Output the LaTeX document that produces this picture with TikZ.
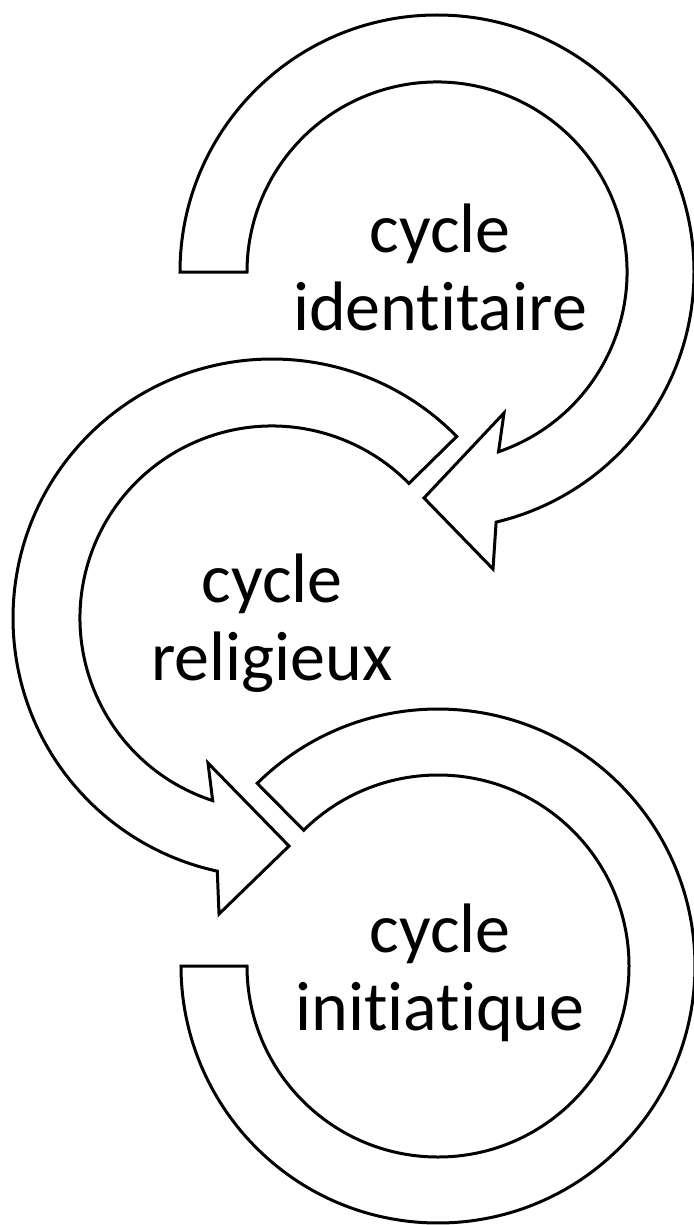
\documentclass[tikz,border=0pt]{standalone}
\usepackage{fontspec}
\setmainfont{Carlito}[Ligatures=NoCommon]
\usetikzlibrary{calc}
\begin{document}
\begin{tikzpicture}[x=1pt,y=-1pt,
  ring/.style={draw=black, line width=3pt, fill=white, line join=miter},
  lbl/.style={font=\fontsize{70}{78}\selectfont, align=center, anchor=base, inner sep=0pt}]
\useasboundingbox (0,0) rectangle (693,1225);
\coordinate (c1) at (437,272);
\coordinate (c2) at (272,618);
\coordinate (c3) at (438,966);
% top ring
\draw[ring] ($(c1)+(180:257)$) arc[start angle=180, end angle=436.7, radius=257]
  -- (493,569) -- (424,498) -- (504,413)
  -- ($(c1)+(71.1:190)$) arc[start angle=431.1, end angle=180, radius=190] -- cycle;
% middle ring
\draw[ring] ($(c2)+(315.5:259)$) arc[start angle=315.5, end angle=102.2, radius=259]
  -- (219,914) -- (289,846) -- (208,763)
  -- ($(c2)+(108:192)$) arc[start angle=108, end angle=315.5, radius=192] -- cycle;
% bottom ring
\draw[ring] ($(c3)+(225.3:257)$) arc[start angle=225.3, end angle=540, radius=257]
  -- ($(c3)+(180:191)$) arc[start angle=540, end angle=225.3, radius=191] -- cycle;
\node[lbl] (t1) at (440,330) {cycle\\identitaire};
\node[lbl] (t2) at (272,680) {cycle\\religieux};
\node[lbl] (t3) at (440,1030) {cycle\\initiatique};
\end{tikzpicture}
\end{document}
